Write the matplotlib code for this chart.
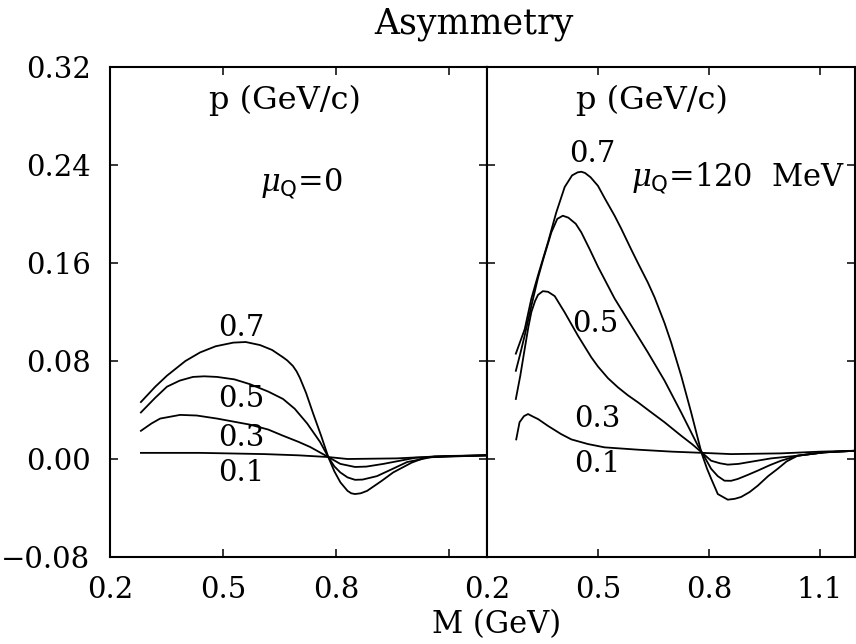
import matplotlib
matplotlib.use('Agg')
import matplotlib.pyplot as plt

plt.rcParams['font.family'] = 'DejaVu Serif'
plt.rcParams['mathtext.fontset'] = 'dejavuserif'

# left panel, mu_Q = 0
m_l07 = [0.282, 0.32, 0.351, 0.40, 0.439, 0.48, 0.527, 0.56, 0.598, 0.63, 0.659, 0.67, 0.685, 0.695, 0.704,
         0.712, 0.72, 0.739, 0.76, 0.779, 0.795, 0.811, 0.83, 0.84, 0.85, 0.865, 0.882, 0.92, 0.951, 1.00,
         1.04, 1.10, 1.2]
a_l07 = [0.0465, 0.059, 0.068, 0.080, 0.087, 0.092, 0.095, 0.0955, 0.093, 0.089, 0.083, 0.0805, 0.076, 0.0715,
         0.066, 0.060, 0.054, 0.037, 0.019, 0.0016, -0.010, -0.019, -0.026, -0.028, -0.0286, -0.028, -0.026,
         -0.018, -0.011, -0.003, 0.0016, 0.0025, 0.003]
m_l05 = [0.282, 0.32, 0.351, 0.385, 0.42, 0.45, 0.484, 0.53, 0.572, 0.62, 0.659, 0.69, 0.723, 0.757,
         0.779, 0.795, 0.811, 0.83, 0.85, 0.87, 0.908, 0.95, 0.988, 1.06, 1.2]
a_l05 = [0.038, 0.050, 0.059, 0.064, 0.067, 0.0675, 0.067, 0.065, 0.061, 0.055, 0.049, 0.041, 0.029, 0.014,
         0.0016, -0.006, -0.011, -0.015, -0.017, -0.0168, -0.014, -0.008, -0.0025, 0.002, 0.003]
m_l03 = [0.282, 0.31, 0.333, 0.386, 0.43, 0.484, 0.572, 0.62, 0.659, 0.70, 0.731, 0.779, 0.811, 0.85,
         0.88, 0.925, 1.01, 1.2]
a_l03 = [0.023, 0.029, 0.033, 0.036, 0.0355, 0.033, 0.028, 0.024, 0.019, 0.014, 0.0098, 0.0016, -0.004, -0.0065,
         -0.0062, -0.004, 0.001, 0.003]
m_l01 = [0.282, 0.44, 0.61, 0.70, 0.779, 0.83, 0.96, 1.06, 1.2]
a_l01 = [0.005, 0.005, 0.004, 0.003, 0.0016, 0.0, 0.0005, 0.002, 0.003]

# right panel, mu_Q = 120 MeV
m_r07 = [0.278, 0.302, 0.320, 0.338, 0.365, 0.387, 0.410, 0.43, 0.445, 0.455, 0.465, 0.48, 0.50, 0.518,
         0.545, 0.563, 0.590, 0.608, 0.635, 0.653, 0.68, 0.698, 0.725, 0.752, 0.780, 0.795, 0.806, 0.824,
         0.851, 0.870, 0.887, 0.910, 0.932, 0.96, 0.986, 1.01, 1.04, 1.113, 1.2]
a_r07 = [0.086, 0.106, 0.131, 0.150, 0.177, 0.201, 0.222, 0.2315, 0.234, 0.2345, 0.2335, 0.230, 0.223, 0.213,
         0.1986, 0.188, 0.171, 0.160, 0.144, 0.132, 0.111, 0.095, 0.068, 0.038, 0.005, -0.008, -0.016, -0.0286,
         -0.0332, -0.0325, -0.031, -0.027, -0.0218, -0.014, -0.008, -0.002, 0.0027, 0.0054, 0.0068]
m_r05 = [0.278, 0.29, 0.302, 0.320, 0.338, 0.352, 0.365, 0.374, 0.39, 0.405, 0.42, 0.44, 0.455, 0.478,
         0.50, 0.545, 0.59, 0.635, 0.68, 0.725, 0.770, 0.782, 0.806, 0.824, 0.842, 0.86, 0.878, 0.905,
         0.932, 0.965, 0.995, 1.04, 1.11, 1.2]
a_r05 = [0.072, 0.086, 0.101, 0.125, 0.148, 0.163, 0.176, 0.185, 0.196, 0.1986, 0.197, 0.192, 0.185, 0.171,
         0.157, 0.131, 0.109, 0.087, 0.064, 0.038, 0.011, 0.005, -0.008, -0.014, -0.0177, -0.0178, -0.0163, -0.013,
         -0.0095, -0.005, -0.0014, 0.0027, 0.0054, 0.0068]
m_r03 = [0.278, 0.29, 0.302, 0.312, 0.320, 0.330, 0.338, 0.351, 0.365, 0.383, 0.41, 0.446, 0.482, 0.50,
         0.527, 0.554, 0.581, 0.608, 0.64, 0.68, 0.725, 0.755, 0.782, 0.806, 0.83, 0.851, 0.88, 0.905,
         0.968, 1.04, 1.11, 1.2]
a_r03 = [0.049, 0.068, 0.090, 0.108, 0.120, 0.129, 0.134, 0.137, 0.1365, 0.133, 0.1197, 0.1006, 0.083, 0.0755,
         0.066, 0.0585, 0.052, 0.0463, 0.039, 0.030, 0.019, 0.012, 0.005, -0.0014, -0.0035, -0.0046, -0.004, -0.0027,
         0.0005, 0.0027, 0.0054, 0.0068]
m_r01 = [0.279, 0.288, 0.30, 0.311, 0.325, 0.338, 0.365, 0.40, 0.428, 0.473, 0.518, 0.608, 0.70, 0.784,
         0.86, 0.995, 1.10, 1.2]
a_r01 = [0.016, 0.030, 0.035, 0.0367, 0.0345, 0.0326, 0.027, 0.0204, 0.016, 0.0122, 0.0095, 0.0076, 0.006, 0.005,
         0.004, 0.0046, 0.006, 0.0068]

p_labels = ['0.7', '0.5', '0.3', '0.1']
yticks = [-0.08, 0.0, 0.08, 0.16, 0.24, 0.32]
ytick_labels = ['\u22120.08', '0.00', '0.08', '0.16', '0.24', '0.32']
xticks = [0.2, 0.5, 0.8, 1.1]

fig = plt.figure(figsize=(8.56, 6.44), dpi=100)
ax1 = fig.add_axes([110/856, 87/644, 377/856, 490/644])
ax2 = fig.add_axes([487/856, 87/644, 368/856, 490/644])

lw = 1.3
for m, a in [(m_l07, a_l07), (m_l05, a_l05), (m_l03, a_l03), (m_l01, a_l01)]:
    ax1.plot(m, a, color='black', lw=lw)
for m, a in [(m_r07, a_r07), (m_r05, a_r05), (m_r03, a_r03), (m_r01, a_r01)]:
    ax2.plot(m, a, color='black', lw=lw)

ax1.set_xlim(0.2, 1.2)
ax2.set_xlim(0.2, 1.195)
for ax in (ax1, ax2):
    ax.set_ylim(-0.08, 0.32)
    ax.set_yticks(yticks)
    ax.set_xticks(xticks)
    ax.tick_params(direction='in', length=6, width=1.1, top=True, right=True,
                   labelsize=21, pad=14)
    for s in ax.spines.values():
        s.set_linewidth(1.5)

ax1.set_yticklabels(ytick_labels)
ax1.set_xticklabels(['0.2', '0.5', '0.8', ''])
ax2.set_yticklabels([])
ax2.set_xticklabels(['0.2', '0.5', '0.8', '1.1'])

# curve labels
lab_fs = 21
for lab, y in zip(p_labels, [0.1004, 0.0424, 0.0106, -0.018]):
    ax1.text(0.549, y, lab, ha='center', va='baseline', fontsize=lab_fs)
for lab, x, y in zip(p_labels, [0.486, 0.493, 0.497, 0.497], [0.2424, 0.1036, 0.026, -0.0106]):
    ax2.text(x, y, lab, ha='center', va='baseline', fontsize=lab_fs)

ax1.text(0.665, 0.2857, 'p (GeV/c)', ha='center', va='baseline', fontsize=23)
ax2.text(0.645, 0.2857, 'p (GeV/c)', ha='center', va='baseline', fontsize=23)
ax1.text(0.598, 0.2187, r'$\mu_\mathsf{Q}$=0', ha='left', va='baseline', fontsize=22)
ax2.text(0.589, 0.2228, r'$\mu_\mathsf{Q}$=120  MeV', ha='left', va='baseline', fontsize=22)

fig.text(0.5537, 0.948, 'Asymmetry', ha='center', va='baseline', fontsize=25)
fig.text(0.5806, 0.0171, 'M (GeV)', ha='center', va='baseline', fontsize=22)

fig.savefig('out.png', dpi=100)
